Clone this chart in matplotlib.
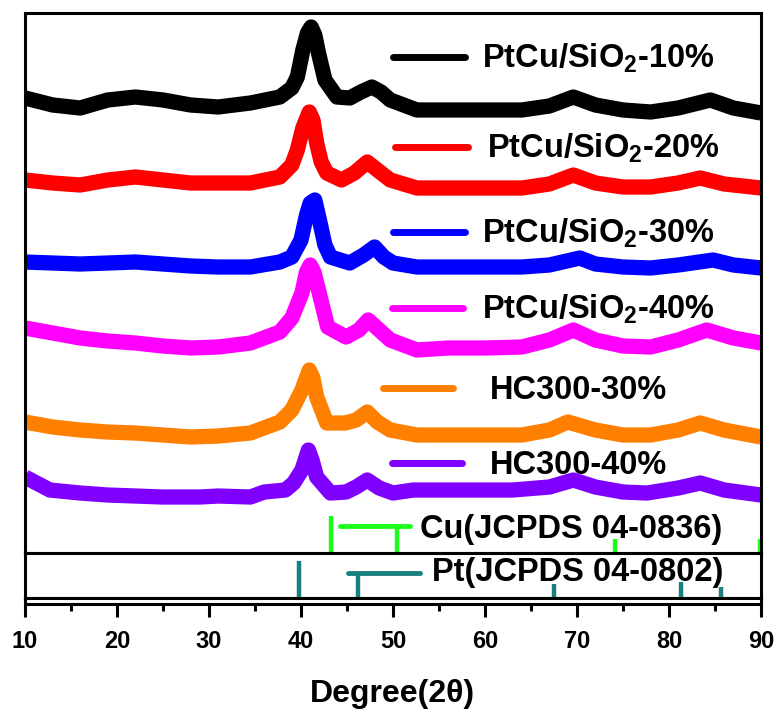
import matplotlib
matplotlib.use("Agg")
import matplotlib.pyplot as plt
import numpy as np

plt.rcParams['font.family'] = ['Liberation Sans', 'DejaVu Sans']
plt.rcParams['font.weight'] = 'bold'
plt.rcParams['mathtext.fontset'] = 'custom'
plt.rcParams['mathtext.rm'] = 'Liberation Sans:bold'
plt.rcParams['mathtext.it'] = 'Liberation Sans:bold'
plt.rcParams['mathtext.bf'] = 'Liberation Sans:bold'

# --- XRD curves (2theta, stacked intensity a.u.) ---
tt_10 = [10, 13, 16, 19, 22, 25, 28, 31, 34.5, 37.7, 39.0, 39.6, 40.2, 40.7, 41.1, 41.5, 41.9, 42.6, 43.9,
         45.3, 46.5, 47.7, 48.7, 49.7, 52.6, 56, 60, 64, 67, 69.6, 72, 75, 78, 81, 84.5, 87, 90]
int_10 = [455, 448, 445, 453, 456, 453, 448, 446, 450, 456, 465, 476, 503, 520, 526, 518, 500, 473, 456,
          455, 461, 466, 461, 453, 443, 443, 443, 443, 447, 456, 448, 443, 441, 445, 453, 445, 440]

tt_20 = [10, 13, 16, 19, 22, 25, 28, 31, 34.5, 37.7, 39.0, 39.6, 40.2, 40.9, 41.3, 41.7, 42.2, 42.8, 44.4,
         45.8, 47.2, 48.3, 49.7, 52.6, 56, 60, 64, 67, 69.6, 72, 75, 78, 81, 83.4, 86, 90]
int_20 = [373, 370, 368, 373, 376, 373, 370, 370, 370, 376, 388, 403, 425, 441, 433, 410, 391, 380, 373,
          380, 391, 383, 373, 365, 365, 365, 365, 369, 378, 370, 366, 366, 370, 375, 369, 365]

tt_30 = [10, 13, 16, 19, 22, 25, 28, 31, 34.5, 37.7, 39.0, 40.0, 40.6, 41.0, 41.5, 42.0, 42.6, 43.2, 45.3,
         46.8, 48.0, 49.0, 50, 52.6, 56, 60, 64, 67, 70.3, 72, 75, 78, 81, 84.8, 87, 90]
int_30 = [291, 290, 289, 290, 291, 289, 287, 286, 286, 291, 296, 313, 338, 350, 353, 333, 308, 296, 290,
          298, 306, 296, 290, 286, 286, 286, 286, 288, 295, 289, 286, 285, 288, 293, 288, 285]

tt_40 = [10, 13, 16, 19, 22, 25, 28, 31, 34.5, 37.7, 39.0, 40.1, 40.6, 41.0, 41.4, 41.9, 42.9, 44.9,
         46.3, 47.3, 48.5, 49.7, 52.6, 56, 60, 64, 67, 69.6, 72, 75, 78, 81, 84.1, 87, 90]
int_40 = [225, 220, 215, 212, 210, 207, 205, 206, 210, 221, 235, 260, 281, 288, 281, 263, 226, 216,
          223, 233, 223, 213, 203, 205, 205, 206, 213, 223, 213, 207, 206, 213, 223, 215, 210]

tt_hc30 = [10, 13, 16, 19, 22, 25, 28, 31, 34.5, 37.7, 39.0, 40.1, 40.9, 41.3, 41.7, 42.8, 44.8,
           46.0, 47.2, 48.3, 49.7, 52.6, 56, 60, 64, 67, 69.0, 72, 75, 78, 81, 83.4, 86, 90]
int_hc30 = [131, 126, 123, 121, 120, 118, 116, 117, 120, 131, 143, 163, 183, 175, 156, 130, 130,
            133, 141, 131, 123, 118, 118, 118, 118, 123, 131, 123, 118, 118, 123, 130, 123, 116]

tt_hc40 = [10, 12.7, 16, 19, 22, 25, 29, 31, 34.5, 36, 38.3, 39.2, 40.1, 40.8, 41.2, 41.7, 43.2, 44.9,
           46.0, 47.2, 48.5, 50, 52.2, 56, 60, 63, 67, 69.6, 72, 75, 77.6, 81, 83.4, 86, 90]
int_hc40 = [76, 63, 60, 58, 57, 56, 56, 57, 56, 61, 63, 70, 83, 103, 93, 76, 60, 61,
            66, 73, 65, 60, 63, 63, 63, 63, 66, 73, 66, 61, 60, 65, 70, 63, 58]

series_tt = [tt_10, tt_20, tt_30, tt_40, tt_hc30, tt_hc40]
series_int = [int_10, int_20, int_30, int_40, int_hc30, int_hc40]
labels = ['PtCu/SiO$_2$-10%', 'PtCu/SiO$_2$-20%', 'PtCu/SiO$_2$-30%',
          'PtCu/SiO$_2$-40%', 'HC300-30%', 'HC300-40%']
colors = ['#000000', '#ff0000', '#0000ff', '#ff00ff', '#ff8000', '#8000ff']

# --- reference patterns ---
cu_pos = [43.3, 50.4, 74.1, 89.9]
cu_int = [100, 70, 38, 38]
pt_pos = [39.8, 46.2, 67.5, 81.3, 85.7]
pt_int = [100, 66, 39, 42, 29]

fig = plt.figure(figsize=(7.77, 7.10), dpi=100)
ax = fig.add_axes([0.0322, 0.2211, 0.9472, 0.7606])
ax_pt = fig.add_axes([0.0322, 0.1577, 0.9472, 0.0634], sharex=ax)
ax_x = fig.add_axes([0.0322, 0.1493, 0.9472, 0.0084], sharex=ax)

for a in (ax, ax_pt, ax_x):
    for s in a.spines.values():
        s.set_linewidth(2.2)
    a.set_yticks([])
    a.tick_params(axis='x', which='both', bottom=False, top=False, labelbottom=False)

for tt, yy, c in zip(series_tt, series_int, colors):
    ax.plot(tt, yy, color=c, lw=11, solid_joinstyle='round', solid_capstyle='butt')

ax.vlines(cu_pos, 0, np.array(cu_int) * 0.37, color='#1aff1a', lw=3.2)
ax.set_xlim(10, 90)
ax.set_ylim(0, 540)

# legend drawn by hand
leg_x0 = [50.0, 50.2, 50.0, 49.9, 48.9, 49.9]
leg_x1 = [57.8, 58.2, 57.8, 57.6, 56.5, 57.5]
leg_y = [496, 406, 321, 245, 165, 90]
txt_x = [59.7, 60.2, 59.7, 59.7, 60.5, 60.5]
for lab, c, x0, x1, y, tx in zip(labels, colors, leg_x0, leg_x1, leg_y, txt_x):
    ax.plot([x0, x1], [y, y], color=c, lw=5, solid_capstyle='round')
    ax.text(tx, y - 11, lab, fontsize=23.5, fontweight='bold', va='baseline', ha='left')

ax.plot([44.2, 51.8], [27, 27], color='#1aff1a', lw=3.5, solid_capstyle='round')
ax.text(52.9, 15, 'Cu(JCPDS 04-0836)', fontsize=23.5, fontweight='bold', va='baseline', ha='left')

ax_pt.vlines(pt_pos, 0, pt_int, color='#198080', lw=3.2, zorder=3)
ax_pt.set_ylim(0, 121)
ax_pt.plot([45.1, 52.9], [66, 66], color='#198080', lw=3.5, solid_capstyle='round')
ax_pt.text(54.2, 47, 'Pt(JCPDS 04-0802)', fontsize=23.5, fontweight='bold', va='baseline', ha='left')

ax_x.set_xticks(np.arange(10, 91, 10))
ax_x.set_xticks(np.arange(15, 90, 10), minor=True)
ax_x.tick_params(axis='x', which='major', bottom=True, labelbottom=True, direction='out',
                 length=9.5, width=2.2, pad=9, labelsize=17)
ax_x.tick_params(axis='x', which='minor', bottom=True, direction='out', length=5, width=2.2)
for t in ax_x.get_xticklabels():
    t.set_fontweight('bold')

fig.text(392 / 777, 1 - 702 / 710, 'Degree(2θ)', fontsize=23, fontweight='bold',
         ha='center', va='baseline')

fig.savefig('out.png', dpi=100)
